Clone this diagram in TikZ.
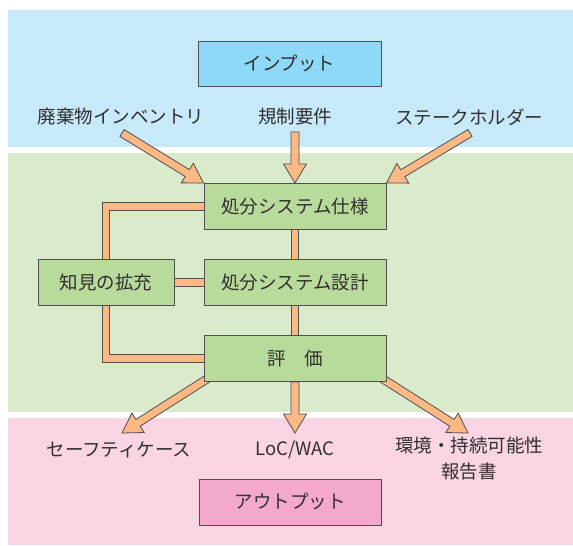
\documentclass[tikz,border=0pt]{standalone}
\usepackage{fontspec}
\setmainfont{Noto Sans CJK JP}
\usetikzlibrary{calc}
\pgfdeclarelayer{bands}
\pgfdeclarelayer{conn}
\pgfsetlayers{bands,conn,main}
\definecolor{bandblue}{HTML}{C7E9F9}
\definecolor{boxblue}{HTML}{8ED8F8}
\definecolor{bandgreen}{HTML}{DAEBCB}
\definecolor{boxgreen}{HTML}{B8DA9A}
\definecolor{bandpink}{HTML}{F9D4E5}
\definecolor{boxpink}{HTML}{F4A9CB}
\definecolor{arroworange}{HTML}{FCB985}
\definecolor{edgegray}{HTML}{505050}
\definecolor{textgray}{HTML}{303030}
\tikzset{
  txt/.style={text=textgray, font=\fontsize{18.5}{26}\selectfont, inner sep=0pt, align=center},
  boxbase/.style={txt, draw=edgegray, line width=1pt, minimum height=46pt},
  gbox/.style={boxbase, fill=boxgreen, minimum width=182pt},
  kbox/.style={boxbase, fill=boxgreen, minimum width=136pt},
  ibox/.style={boxbase, fill=boxblue, minimum width=183pt, minimum height=45pt},
  obox/.style={boxbase, fill=boxpink, minimum width=182pt},
  fatshape/.style={fill=arroworange, draw=edgegray, line width=0.8pt, line join=miter},
  pipe/.style={draw=edgegray, line width=0.9pt, double=arroworange, double distance=6.4pt, line join=miter}
}
\newcommand\fatarr[2]{%
  \coordinate (fa-c) at ($(#2)!19pt!(#1)$);
  \draw[fatshape] ($(#1)!4pt!90:(#2)$) -- ($(fa-c)!4pt!-90:(#1)$) -- ($(fa-c)!11.5pt!-90:(#1)$) -- (#2)
    -- ($(fa-c)!11.5pt!90:(#1)$) -- ($(fa-c)!4pt!90:(#1)$) -- ($(#1)!4pt!-90:(#2)$) -- cycle;
}
\begin{document}
\begin{tikzpicture}[x=1pt,y=-1pt]
\useasboundingbox (0,0) rectangle (573,546);
\begin{pgfonlayer}{bands}
  \fill[bandblue] (8,10) rectangle (573,147);
  \fill[bandgreen] (8,153) rectangle (573,412);
  \fill[bandpink] (8,418) rectangle (573,545);
\end{pgfonlayer}

% boxes
\node[ibox] (inp) at (289.5,63.5) {インプット};
\node[gbox] (shiyo) at (295,206.5) {処分システム仕様};
\node[gbox] (sekkei) at (295,282.5) {処分システム設計};
\node[gbox] (hyoka) at (295,358.5) {評　価};
\node[kbox] (chiken) at (106,282.5) {知見の拡充};
\node[obox] (outp) at (290,502) {アウトプット};

% labels
\node[txt] (l1) at (121,117) {廃棄物インベントリ};
\node[txt] (l2) at (295,117) {規制要件};
\node[txt] (l3) at (469,117) {ステークホルダー};
\node[txt] (o1) at (119,450) {セーフティケース};
\node[txt] (o2) at (295,450) {LoC/WAC};
\node[txt, anchor=north] (o3) at (469,437) {環境・持続可能性\\報告書};

% arrow start points
\coordinate (s1) at (122,133);
\coordinate (s2) at (295,132);
\coordinate (s3) at (470,133);
\coordinate (e1) at (218,372);
\coordinate (e3) at (372,372);
\coordinate (t1) at (122,433);
\coordinate (t2) at (295,433);
\coordinate (t3) at (468,433);

\begin{pgfonlayer}{conn}
  \draw[pipe] (shiyo.west) -| (chiken.north);
  \draw[pipe] (chiken.south) |- (hyoka.west);
  \draw[pipe] (chiken.east) -- (sekkei.west);
  \draw[pipe] (shiyo.south) -- (sekkei.north);
  \draw[pipe] (sekkei.south) -- (hyoka.north);
  \fatarr{s1}{shiyo.north west}
  \fatarr{s2}{shiyo.north}
  \fatarr{s3}{shiyo.north east}
  \fatarr{e1}{t1}
  \fatarr{hyoka.south}{t2}
  \fatarr{e3}{t3}
\end{pgfonlayer}
\end{tikzpicture}
\end{document}
